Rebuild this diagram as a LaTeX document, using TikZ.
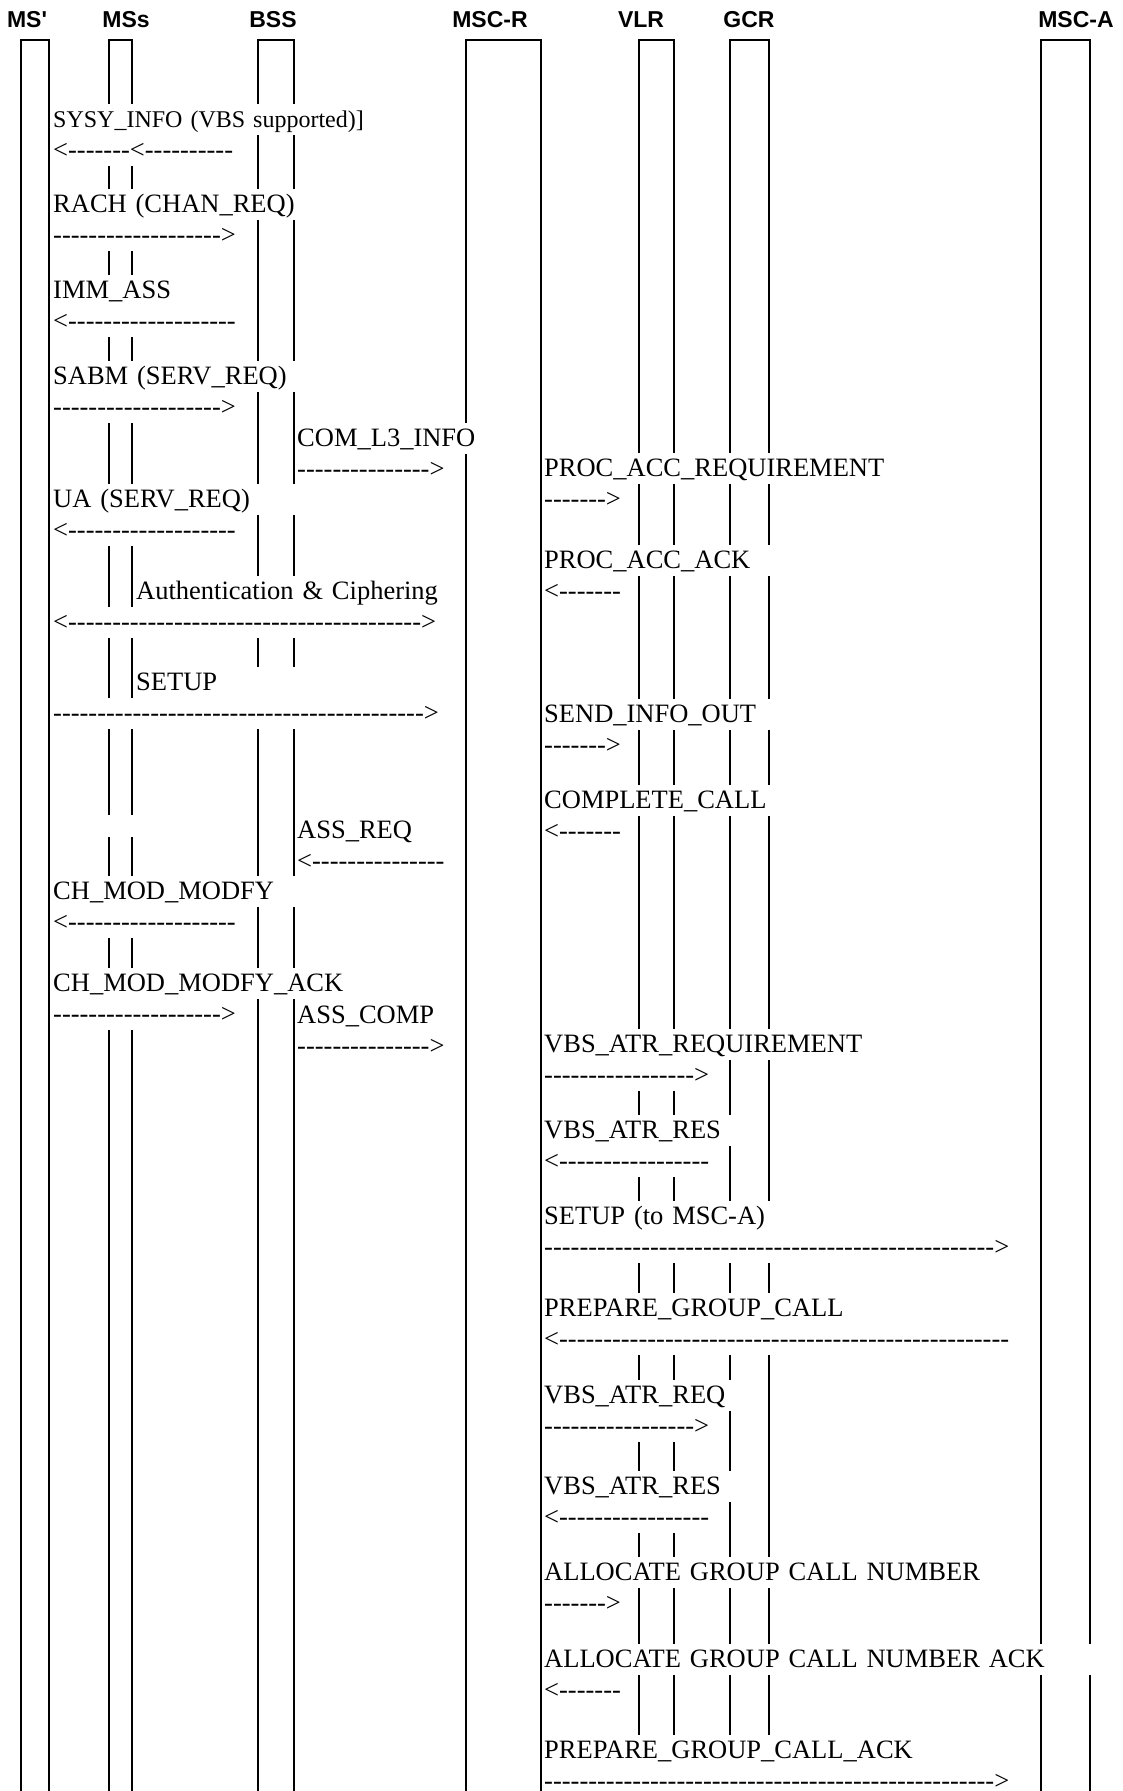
\documentclass[tikz,border=0pt]{standalone}
\usepackage{fontspec}
\newfontfamily\msgfont{Liberation Serif}
\newfontfamily\headfont{Liberation Sans}
\usetikzlibrary{positioning}

\begin{document}
\begin{tikzpicture}[
    x=1pt, y=-1pt,
    life/.style={draw=black, line width=2pt},
    head/.style={
        anchor=base, inner sep=0pt,
        font=\headfont\bfseries\fontsize{23}{27}\selectfont
    },
    msg/.style={
        anchor=north west, fill=white,
        inner xsep=1pt, inner ysep=0pt,
        text height=23.5pt, text depth=7.5pt,
        align=left,
        font=\msgfont\fontsize{26.5}{31}\selectfont
    }
]
\useasboundingbox (0,0) rectangle (1122,1791);

% Lifelines
\draw[life] (21,1791) |- (49,40) -- (49,1791);
\draw[life] (109,1791) |- (132,40) -- (132,1791);
\draw[life] (258,1791) |- (294,40) -- (294,1791);
\draw[life] (466,1791) |- (541,40) -- (541,1791);
\draw[life] (639,1791) |- (674,40) -- (674,1791);
\draw[life] (730,1791) |- (769,40) -- (769,1791);
\draw[life] (1041,1791) |- (1090,40) -- (1090,1791);

% gap in the MSs lifeline
\fill[white] (100,814.5) rectangle (140,837);

% Headers
\node[head] (msp) at (27,27) {MS'};
\node[head] (mss) at (126,27) {MSs};
\node[head] (bss) at (273,27) {BSS};
\node[head] (mscr) at (490,27) {MSC-R};
\node[head] (vlr) at (641,27) {VLR};
\node[head] (gcr) at (749,27) {GCR};
\node[head] (msca) at (1076,27) {MSC-A};

% MS' / MSs <-> BSS
\node[msg, text width=386pt, font=\msgfont\fontsize{24}{31}\selectfont] (sysinfo) at (52,103.5) {SYSY\_INFO (VBS supported)]};
\node[msg, text width=196pt, below=0pt of sysinfo.south west, anchor=north west] (sysinfo-arr) {<-------<----------};

\node[msg, text width=386pt] (rach) at (52,188.5) {RACH (CHAN\_REQ)};
\node[msg, text width=196pt, below=0pt of rach.south west, anchor=north west] (rach-arr) {------------------->};

\node[msg, text width=196pt] (immass) at (52,274.5) {IMM\_ASS};
\node[msg, text width=196pt, below=0pt of immass.south west, anchor=north west] (immass-arr) {<-------------------};

\node[msg, text width=386pt] (sabm) at (52,360.5) {SABM (SERV\_REQ)};
\node[msg, text width=196pt, below=0pt of sabm.south west, anchor=north west] (sabm-arr) {------------------->};

\node[msg, text width=386pt] (ua) at (52,483.5) {UA (SERV\_REQ)};
\node[msg, text width=196pt, below=0pt of ua.south west, anchor=north west] (ua-arr) {<-------------------};

\node[msg, text width=251pt] (chmod) at (52,875.5) {CH\_MOD\_MODFY};
\node[msg, text width=196pt, below=0pt of chmod.south west, anchor=north west] (chmod-arr) {<-------------------};

\node[msg, text width=306pt] (chmodack) at (52,967.5) {CH\_MOD\_MODFY\_ACK};
\node[msg, text width=196pt, below=0pt of chmodack.south west, anchor=north west] (chmodack-arr) {------------------->};

% BSS <-> MSC-R
\node[msg, text width=192pt] (coml3) at (296,422.5) {COM\_L3\_INFO};
\node[msg, text width=157pt, below=0pt of coml3.south west, anchor=north west] (coml3-arr) {--------------->};

\node[msg, text width=142pt] (assreq) at (296,814.5) {ASS\_REQ};
\node[msg, text width=157pt, below=0pt of assreq.south west, anchor=north west] (assreq-arr) {<---------------};

\node[msg, text width=152pt] (asscomp) at (296,999.5) {ASS\_COMP};
\node[msg, text width=157pt, below=0pt of asscomp.south west, anchor=north west] (asscomp-arr) {--------------->};

% MS' <-> MSC-R
\node[msg, text width=323pt] (auth) at (135,575.5) {Authentication \& Ciphering};
\node[msg, text width=401pt] (auth-arr) at (52,606.5) {<---------------------------------------->};

\node[msg, text width=168pt] (setup) at (135,666.5) {SETUP};
\node[msg, text width=401pt] (setup-arr) at (52,697.5) {------------------------------------------>};

% MSC-R <-> VLR, GCR, MSC-A
\node[msg, text width=355pt] (procacc) at (543,452.5) {PROC\_ACC\_REQUIREMENT};
\node[msg, text width=85pt, below=0pt of procacc.south west, anchor=north west] (procacc-arr) {------->};

\node[msg, text width=235pt] (procack) at (543,544.5) {PROC\_ACC\_ACK};
\node[msg, text width=85pt, below=0pt of procack.south west, anchor=north west] (procack-arr) {<-------};

\node[msg, text width=235pt] (sendinfo) at (543,698.5) {SEND\_INFO\_OUT};
\node[msg, text width=85pt, below=0pt of sendinfo.south west, anchor=north west] (sendinfo-arr) {------->};

\node[msg, text width=235pt] (complete) at (543,784.5) {COMPLETE\_CALL};
\node[msg, text width=85pt, below=0pt of complete.south west, anchor=north west] (complete-arr) {<-------};

\node[msg, text width=335pt] (vbsatr) at (543,1028.5) {VBS\_ATR\_REQUIREMENT};
\node[msg, text width=175pt, below=0pt of vbsatr.south west, anchor=north west] (vbsatr-arr) {----------------->};

\node[msg, text width=200pt] (vbsres) at (543,1114.5) {VBS\_ATR\_RES};
\node[msg, text width=175pt, below=0pt of vbsres.south west, anchor=north west] (vbsres-arr) {<-----------------};

\node[msg, text width=455pt] (setupa) at (543,1200.5) {SETUP (to MSC-A)};
\node[msg, text width=480pt, below=0pt of setupa.south west, anchor=north west] (setupa-arr) {--------------------------------------------------->};

\node[msg, text width=315pt] (prepare) at (543,1292.5) {PREPARE\_GROUP\_CALL};
\node[msg, text width=480pt, below=0pt of prepare.south west, anchor=north west] (prepare-arr) {<---------------------------------------------------};

\node[msg, text width=200pt] (vbsreq) at (543,1379.5) {VBS\_ATR\_REQ};
\node[msg, text width=175pt, below=0pt of vbsreq.south west, anchor=north west] (vbsreq-arr) {----------------->};

\node[msg, text width=200pt] (vbsres2) at (543,1470.5) {VBS\_ATR\_RES};
\node[msg, text width=175pt, below=0pt of vbsres2.south west, anchor=north west] (vbsres2-arr) {<-----------------};

\node[msg, text width=475pt] (alloc) at (543,1556.5) {ALLOCATE GROUP CALL NUMBER};
\node[msg, text width=85pt, below=0pt of alloc.south west, anchor=north west] (alloc-arr) {------->};

\node[msg, text width=565pt] (allocack) at (543,1643.5) {ALLOCATE GROUP CALL NUMBER ACK};
\node[msg, text width=85pt, below=0pt of allocack.south west, anchor=north west] (allocack-arr) {<-------};

\node[msg, text width=385pt] (prepack) at (543,1734.5) {PREPARE\_GROUP\_CALL\_ACK};
\node[msg, text width=480pt, text depth=2pt, below=0pt of prepack.south west, anchor=north west] (prepack-arr) {--------------------------------------------------->};

\end{tikzpicture}
\end{document}
